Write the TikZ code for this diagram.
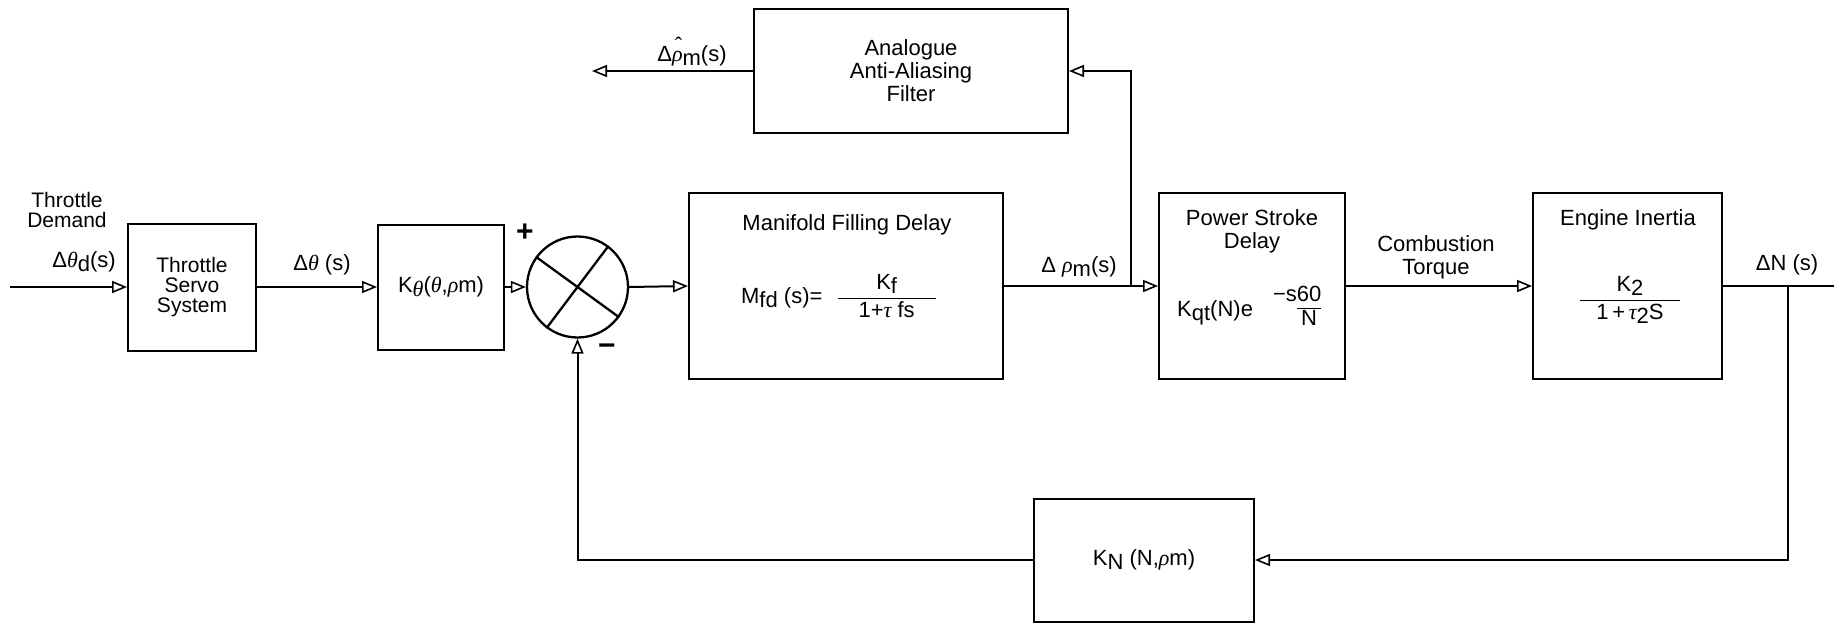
\documentclass[tikz,border=0pt]{standalone}
\usepackage{fontspec}
\setmainfont{Liberation Sans}
\newfontfamily\grk{Liberation Serif}
\usetikzlibrary{arrows.meta}
\newcommand\lowr[1]{\raisebox{-0.35ex}{#1}}
\newcommand\gth{{\grk\itshape θ}}
\newcommand\grho{{\grk\itshape ρ}}
\newcommand\gtau{{\grk\itshape τ}}
\newcommand\grhohat{{\grk\itshape\ooalign{ρ\cr\hidewidth\raisebox{0.42em}{\hspace{0.1em}\upshape\char"02C6}\hidewidth\cr}}}
\setlength\arrayrulewidth{1.5pt}
\tikzset{
  txt/.style={font=\fontsize{22}{23}\selectfont, inner sep=0pt, align=center},
  blk/.style={draw, line width=2pt, inner sep=0pt, txt},
  conn/.style={line width=2pt},
  arr/.style={conn, -{Triangle[open, length=15pt, width=12pt, line width=1.6pt]}},
}
\begin{document}
\begin{tikzpicture}[x=1pt,y=-1pt]
\useasboundingbox (0,0) rectangle (1834,625);
% blocks
\node[blk, minimum width=128pt, minimum height=127pt, font=\fontsize{21}{20}\selectfont] (servo) at (192,287) {Throttle\\Servo\\System};
\node[blk, minimum width=126pt, minimum height=125pt] (kth) at (441,287) {K\lowr{\gth}(\gth,\grho m)};
\node[draw, circle, line width=2.3pt, minimum size=101pt, inner sep=0pt] (sum) at (577.5,287) {};
\draw[line width=2.3pt] (sum.144) -- (sum.-36);
\draw[line width=2.3pt] (sum.53) -- (sum.-127);
\node[blk, minimum width=314pt, minimum height=186pt] (mfd) at (846,286) {};
\node[blk, minimum width=314pt, minimum height=124pt] (filt) at (911,71) {Analogue\\Anti-Aliasing\\Filter};
\node[blk, minimum width=186pt, minimum height=186pt] (psd) at (1252,286) {};
\node[blk, minimum width=189pt, minimum height=186pt] (eng) at (1627.5,286) {};
\node[blk, minimum width=220pt, minimum height=123pt] (kn) at (1144,560) {K\lowr{N} (N,\grho m)};
% texts inside boxes
\node[txt] (mfdt) at (847,225) {Manifold Filling Delay};
\node[txt] (mfdf) at (839,296) {M\lowr{fd} (s)=\hspace{14pt}$\displaystyle\frac{\makebox[98pt]{K\lowr{f}}}{\mbox{1+\gtau\ fs}}$};
\node[txt] (psdt) at (1252,231) {Power Stroke\\Delay};
\node[txt, anchor=base west] (psdf) at (1177,316) {K\lowr{qt}(N)e\hspace{20pt}\raisebox{15pt}{−s\begin{tabular}[t]{@{}c@{}}60\\\hline N\end{tabular}}};
\node[txt] (engt) at (1628,220) {Engine Inertia};
\node[txt] (engf) at (1630,300) {$\displaystyle\frac{\makebox[100pt]{K\lowr{2}}}{\mbox{1\,+\,\gtau\lowr{2}S}}$};
% signal labels
\node[txt, font=\fontsize{21}{20}\selectfont] (tdem) at (67,210) {Throttle\\Demand};
\node[txt] (lthd) at (84,262) {Δ\gth\lowr{d}(s)};
\node[txt] (lth) at (322,265) {Δ\gth\ (s)};
\node[txt, font=\fontsize{30}{30}\selectfont\bfseries] (plus) at (525,233) {+};
\node[txt, font=\fontsize{30}{30}\selectfont\bfseries] (minus) at (607,350) {−};
\node[txt] (lrho) at (1079,267) {Δ \grho\lowr{m}(s)};
\node[txt] (lrhoh) at (692,56) {Δ\grhohat\lowr{m}(s)};
\node[txt] (lct) at (1436,257) {Combustion\\Torque};
\node[txt] (ldn) at (1787,265) {ΔN (s)};
% coordinates
\coordinate (in) at (10,287);
\coordinate (out) at (1834,286);
\coordinate (fb) at (1131,286);
\coordinate (fout) at (592,71);
\coordinate (nb) at (1788,286);
\coordinate (nc) at (1788,560);
% connectors
\draw[arr] (in) -- (servo.west);
\draw[arr] (servo.east) -- (kth.west);
\draw[arr] (kth.east) -- (sum.west);
\draw[arr] (sum.east) -- (mfd.west);
\draw[arr] (mfd.east) -- (psd.west);
\draw[arr] (fb) |- (filt.east);
\draw[arr] (filt.west) -- (fout);
\draw[arr] (psd.east) -- (eng.west);
\draw[conn] (eng.east) -- (out);
\draw[arr] (nb) -- (nc) -- (kn.east);
\draw[arr] (kn.west) -| (sum.south);
\end{tikzpicture}
\end{document}
